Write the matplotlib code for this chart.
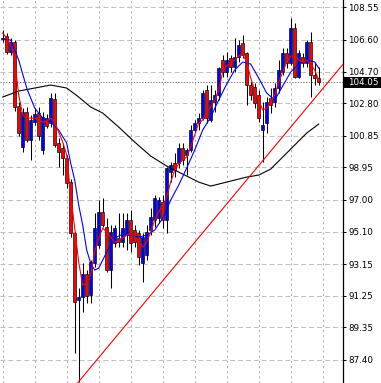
import numpy as np
import matplotlib.pyplot as plt
from matplotlib.patches import Rectangle
from matplotlib.transforms import blended_transform_factory

plt.rcParams['lines.scale_dashes'] = False

# OHLC (one candle per 4 px)
opens = [106.65, 106.85, 105.87, 106.50, 102.65, 100.15, 102.27, 100.59, 101.67, 102.20,
         99.98, 101.90, 101.60, 103.05, 100.40, 100.10, 99.50, 98.07, 95.00, 90.97,
         91.15, 92.55, 91.30, 93.20, 94.30, 96.25, 95.40, 92.80, 94.41, 94.70,
         94.47, 94.90, 95.80, 95.20, 95.00, 93.20, 93.70, 95.20, 95.80, 95.90,
         96.90, 95.80, 98.70, 99.20, 99.20, 100.10, 99.70, 100.00, 101.20, 101.60,
         101.90, 103.60, 101.80, 102.90, 103.30, 105.40, 104.70, 105.50, 105.00, 105.55,
         106.40, 105.80, 103.90, 103.80, 103.30, 101.20, 101.60, 103.10, 102.90, 103.70,
         104.70, 105.80, 105.20, 107.30, 104.40, 105.60, 105.20, 106.50, 104.50, 104.30]
highs = [107.20, 107.00, 106.70, 106.60, 102.90, 102.50, 102.55, 102.08, 102.50, 102.55,
         102.27, 102.15, 103.40, 103.40, 100.70, 100.40, 99.70, 98.25, 95.10, 91.70,
         93.20, 92.80, 93.40, 96.20, 97.00, 97.10, 95.90, 95.50, 95.50, 96.20,
         96.20, 96.20, 96.40, 95.50, 95.20, 95.00, 95.50, 96.50, 97.30, 97.20,
         97.30, 98.95, 99.30, 99.80, 100.40, 100.40, 100.10, 101.50, 101.80, 102.20,
         103.60, 103.90, 103.90, 103.60, 105.00, 105.70, 105.90, 105.70, 106.70, 106.60,
         106.90, 105.90, 104.10, 104.00, 103.60, 102.90, 103.20, 103.70, 104.00, 105.40,
         106.10, 106.10, 107.90, 107.60, 106.00, 105.80, 106.60, 107.10, 105.30, 105.00]
lows = [106.45, 105.75, 105.70, 102.35, 100.85, 99.87, 100.47, 99.39, 101.49, 100.60,
        99.74, 101.30, 101.36, 100.15, 99.00, 98.50, 97.70, 94.80, 87.80, 86.10,
        90.27, 90.80, 90.80, 93.00, 94.10, 95.40, 92.70, 91.70, 94.20, 94.20,
        94.20, 94.00, 93.90, 94.20, 93.07, 92.10, 93.40, 94.90, 95.40, 95.60,
        95.30, 95.00, 98.10, 98.40, 98.90, 99.10, 98.50, 99.90, 101.00, 101.20,
        101.80, 101.60, 101.70, 102.30, 103.00, 104.40, 104.40, 104.70, 104.70, 105.30,
        105.50, 102.70, 103.00, 102.50, 101.70, 99.30, 101.00, 102.20, 102.60, 103.40,
        104.50, 104.90, 105.10, 104.30, 104.30, 105.00, 105.00, 103.20, 103.90, 103.90]
closes = [106.70, 105.87, 106.47, 102.60, 101.00, 102.27, 100.59, 101.79, 102.15, 100.82,
          101.96, 101.42, 103.10, 100.29, 99.86, 99.50, 98.00, 95.00, 90.87, 91.15,
          92.55, 91.25, 93.25, 95.30, 96.25, 95.50, 92.80, 95.10, 95.31, 94.45,
          95.31, 95.80, 94.40, 94.50, 93.55, 94.80, 95.10, 95.97, 97.10, 97.00,
          95.80, 98.90, 99.10, 98.80, 100.10, 99.40, 100.00, 101.20, 101.60, 101.90,
          103.40, 101.90, 103.00, 103.30, 104.90, 104.70, 105.40, 104.95, 105.55, 106.30,
          105.70, 103.90, 103.30, 102.80, 101.90, 101.50, 102.90, 102.70, 103.70, 104.80,
          105.80, 105.20, 107.30, 104.40, 105.80, 105.20, 106.50, 104.50, 104.30, 104.05]

# moving averages as drawn on the chart
red_ma = [107.01, 106.71, 106.29, 105.39, 103.29, 102.09, 101.91, 101.91, 101.91, 101.79,
          101.67, 101.73, 101.91, 101.67, 101.07, 100.47, 99.69, 97.29, 95.31, 93.27,
          91.89, 92.01, 92.49, 93.87, 94.71, 95.31, 95.07, 94.77, 94.47, 94.59,
          94.71, 94.89, 95.01, 94.77, 94.47, 94.17, 94.47, 95.07, 95.79, 96.27,
          96.69, 97.17, 98.07, 98.79, 99.15, 99.39, 99.57, 100.17, 100.89, 101.61,
          101.79, 102.27, 102.57, 102.99, 103.59, 104.67, 105.03, 105.21, 105.39, 105.63,
          105.75, 105.27, 104.31, 103.59, 102.99, 102.39, 102.51, 102.87, 103.29, 104.07,
          104.67, 105.27, 105.63, 105.63, 105.39, 105.27, 105.39, 105.15, 104.79, 104.19]
blue_idx = [0, 2, 4, 6, 8, 10, 12, 14, 16, 17, 18, 19, 20, 21, 22, 23, 24, 26, 28, 30,
            32, 34, 36, 38, 40, 42, 44, 46, 48, 50, 52, 54, 56, 58, 60, 62, 64, 66, 68, 70,
            72, 74, 76, 78, 79]
blue_ma = [106.65, 106.59, 105.39, 103.71, 102.51, 101.91, 101.67, 101.19, 100.41, 99.20,
           98.19, 96.69, 95.49, 93.99, 93.21, 92.79, 92.91, 93.87, 94.71, 94.95,
           94.89, 94.77, 94.89, 95.19, 95.91, 96.99, 97.89, 98.91, 99.99, 101.19,
           101.97, 102.99, 103.95, 104.79, 105.27, 105.15, 104.31, 103.41, 102.99, 103.83,
           104.67, 105.15, 105.39, 105.27, 104.91]
black_idx = [0, 4, 8, 12, 16, 19, 22, 25, 29, 33, 37, 41, 45, 49, 52, 55, 58, 61, 64, 67,
             70, 73, 76, 79]
black_ma = [103.17, 103.53, 103.71, 103.89, 103.71, 103.17, 102.57, 102.21, 101.37, 100.47,
            99.63, 99.03, 98.55, 98.07, 97.83, 98.01, 98.19, 98.37, 98.49, 98.85,
            99.57, 100.29, 101.01, 101.55]

# trend line anchors (candle index, price)
trend_a = (19, 86.10)
trend_b = (65, 99.35)

price_labels = ["108.55", "106.60", "104.70", "102.80", "100.85", "98.95",
                "97.00", "95.10", "93.15", "91.25", "89.35", "87.40"]
last_price = 104.05

fig = plt.figure(figsize=(3.81, 3.83), dpi=100)
ax = fig.add_axes([0, 0, 343 / 381, 1])
ax.set_xlim(-0.675, 85.075)
ax.set_ylim(86.02, 108.99)

# grid
ax.set_yticks([float(s) for s in price_labels])
ax.set_yticklabels(price_labels, fontfamily='DejaVu Sans', fontsize=6.3)
ax.set_xticks(np.arange(0, 81, 8))
ax.set_xticklabels([])
ax.grid(axis='y', color='#c0c0c0', linestyle=(0, (3.5, 2.2)), linewidth=0.75)
ax.grid(axis='x', color='#b0b0b0', linestyle=(0, (1.5, 2.2)), linewidth=0.75)
ax.set_axisbelow(True)

for side in ['top', 'left', 'bottom']:
    ax.spines[side].set_visible(False)
ax.spines['right'].set_linewidth(0.9)
ax.yaxis.tick_right()
ax.tick_params(axis='y', length=2.2, width=0.7, pad=1.5, colors='black')
ax.tick_params(axis='x', length=0)

# candles
x = np.arange(len(closes))
o = np.array(opens)
c = np.array(closes)
up = c > o
body_lo = np.minimum(o, c)
body_h = np.maximum(np.abs(c - o), 0.04)
ax.vlines(x, lows, highs, color='black', linewidth=0.75, zorder=2)
ax.bar(x, body_h, bottom=body_lo, width=0.72,
       color=np.where(up, '#0000ff', '#ff0000'),
       edgecolor='black', linewidth=0.45, zorder=3)

# indicators
ax.plot(black_idx, black_ma, color='black', linewidth=0.8, zorder=4)
ax.plot(blue_idx, blue_ma, color='#0000ff', linewidth=0.8, zorder=4)
ax.plot(x, red_ma, color='#ff0000', linewidth=0.8, zorder=5)
ax.axline(trend_a, trend_b, color='#ff0000', linewidth=0.8, zorder=4)

# bid line and price box
ax.axhline(last_price, color='#808080', linestyle=(0, (1, 1)), linewidth=0.7, zorder=1)
tr = blended_transform_factory(fig.transFigure, ax.transData)
box = Rectangle((344 / 381, last_price - 0.32), 1 - 344 / 381, 0.64,
                transform=tr, facecolor='black', edgecolor='none', clip_on=False)
fig.add_artist(box)
fig.text(348.5 / 381, last_price, f"{last_price:.2f}", transform=tr, color='white',
         fontfamily='DejaVu Sans', fontsize=6.3, va='center', ha='left')

plt.savefig("out.png", dpi=100)
